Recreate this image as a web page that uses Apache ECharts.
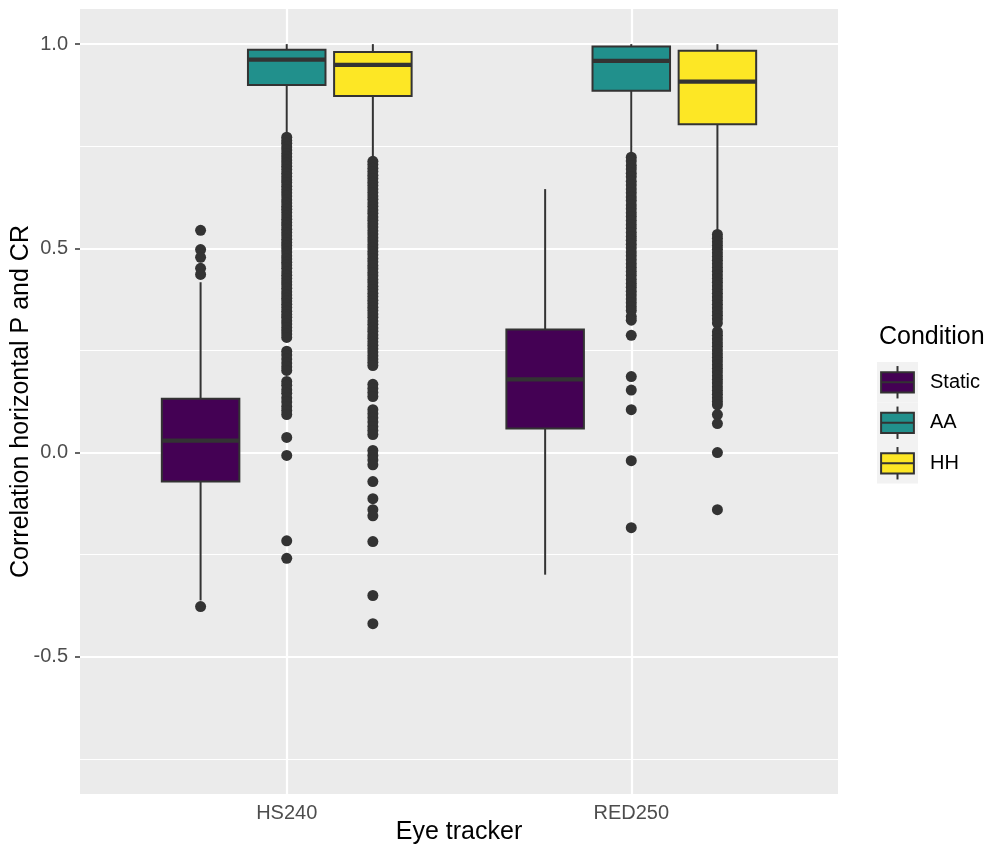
<!DOCTYPE html>
<html>
<head>
<meta charset="utf-8">
<script src="https://cdn.jsdelivr.net/npm/echarts@6/dist/echarts.min.js"></script>
<style>
  html, body { margin: 0; padding: 0; background: #ffffff; }
  #chart { width: 987px; height: 845px; }
</style>
</head>
<body>
<div id="chart"></div>
<script>
// ---- data -------------------------------------------------------------
const trackers = ['HS240', 'RED250'];
const conditions = ['Static', 'AA', 'HH'];
const conditionColors = ['#440154', '#21908C', '#FDE725'];

// five-number summaries per tracker: [lower whisker, Q1, median, Q3, upper whisker]
const staticBox = [[-0.362, -0.071, 0.029, 0.132, 0.417], [-0.299, 0.059, 0.179, 0.301, 0.645]];
const aaBox     = [[0.784, 0.900, 0.962, 0.986, 1.000], [0.735, 0.886, 0.959, 0.994, 1.000]];
const hhBox     = [[0.723, 0.873, 0.949, 0.981, 1.000], [0.542, 0.804, 0.908, 0.984, 1.000]];

// outlying correlations per tracker
const staticOutliers = [
  [0.544, 0.497, 0.478, 0.451, 0.436, -0.377],
  []
];
const aaOutliers = [
  [0.772, 0.764, 0.757, 0.749, 0.741, 0.732, 0.724, 0.716, 0.709, 0.701, 0.693, 0.684,
   0.676, 0.668, 0.661, 0.652, 0.644, 0.636, 0.628, 0.619, 0.611, 0.603, 0.596, 0.588,
   0.579, 0.571, 0.563, 0.556, 0.547, 0.539, 0.531, 0.522, 0.514, 0.507, 0.499, 0.491,
   0.482, 0.474, 0.466, 0.459, 0.451, 0.442, 0.434, 0.426, 0.418, 0.411, 0.402, 0.394,
   0.386, 0.378, 0.371, 0.363, 0.355, 0.346, 0.338, 0.331, 0.323, 0.315, 0.306, 0.298,
   0.290, 0.282,
   0.248, 0.239, 0.229, 0.219, 0.210, 0.201,
   0.174, 0.165, 0.154, 0.145, 0.134, 0.124, 0.113, 0.103, 0.093,
   0.037, -0.007, -0.216, -0.259],
  [0.723, 0.714, 0.703, 0.694, 0.684, 0.675, 0.664, 0.655, 0.645, 0.636, 0.626, 0.617,
   0.606, 0.597, 0.587, 0.578, 0.568, 0.558, 0.549, 0.539, 0.529, 0.520, 0.510, 0.501,
   0.491, 0.482, 0.472, 0.462, 0.453, 0.443, 0.434, 0.424, 0.414, 0.405, 0.395, 0.386,
   0.376, 0.367, 0.357, 0.348,
   0.333, 0.324, 0.287, 0.186, 0.153, 0.105, -0.020, -0.184]
];
const hhOutliers = [
  [0.713, 0.705, 0.696, 0.688, 0.679, 0.671, 0.662, 0.654, 0.645, 0.637, 0.628, 0.620,
   0.611, 0.603, 0.594, 0.586, 0.577, 0.569, 0.560, 0.552, 0.543, 0.535, 0.526, 0.518,
   0.509, 0.501, 0.492, 0.484, 0.475, 0.467, 0.458, 0.450, 0.441, 0.433, 0.424, 0.416,
   0.407, 0.399, 0.390, 0.382, 0.373, 0.365, 0.356, 0.348, 0.339, 0.331, 0.322, 0.314,
   0.305, 0.297, 0.288, 0.280, 0.271, 0.263, 0.254, 0.246, 0.237, 0.229, 0.221, 0.213,
   0.167, 0.157, 0.147, 0.137,
   0.105, 0.095, 0.085, 0.075, 0.064, 0.054, 0.044,
   0.005, -0.007, -0.018, -0.030, -0.071, -0.113, -0.140, -0.155, -0.218, -0.350, -0.419],
  [0.534, 0.525, 0.516, 0.507, 0.498, 0.489, 0.480, 0.471, 0.462, 0.453, 0.444, 0.435,
   0.426, 0.417, 0.408, 0.399, 0.390, 0.381, 0.372, 0.363, 0.354, 0.345, 0.336, 0.327, 0.317,
   0.296, 0.287, 0.278, 0.269, 0.260, 0.251, 0.242, 0.233, 0.224, 0.215, 0.206, 0.197,
   0.188, 0.179, 0.170, 0.161, 0.152, 0.143, 0.134, 0.125, 0.117,
   0.093, 0.071, 0.000, -0.140]
];

const yMajorBreaks = [-0.5, 0.0, 0.5, 1.0];
const yMinorBreaks = [-0.75, -0.25, 0.25, 0.75];
const xBreaks = [1, 2];

// ---- layout helpers ----------------------------------------------------
const boxStats = [staticBox, aaBox, hhBox];
const outlierSets = [staticOutliers, aaOutliers, hhOutliers];
const dodgeStep = 0.25;        // spacing between conditions within a tracker
const boxWidth = 0.225;        // box width in axis units
const ink = '#333333';
const fontFamily = 'Liberation Sans, Arial, Helvetica, sans-serif';

function xPos(trackerIdx, condIdx) {
  return (trackerIdx + 1) + (condIdx - 1) * dodgeStep;
}

function makeBoxRenderer(fill) {
  return function (params, api) {
    const x = api.value(0);
    const lo = api.coord([x, api.value(1)]);
    const q1 = api.coord([x, api.value(2)]);
    const md = api.coord([x, api.value(3)]);
    const q3 = api.coord([x, api.value(4)]);
    const hi = api.coord([x, api.value(5)]);
    const left = api.coord([x - boxWidth / 2, 0])[0];
    const right = api.coord([x + boxWidth / 2, 0])[0];
    const cx = lo[0];
    return {
      type: 'group',
      children: [
        { type: 'line', shape: { x1: cx, y1: lo[1], x2: cx, y2: q1[1] },
          style: { stroke: ink, lineWidth: 2 } },
        { type: 'line', shape: { x1: cx, y1: q3[1], x2: cx, y2: hi[1] },
          style: { stroke: ink, lineWidth: 2 } },
        { type: 'rect', shape: { x: left, y: q3[1], width: right - left, height: q1[1] - q3[1] },
          style: { fill: fill, stroke: ink, lineWidth: 2 } },
        { type: 'line', shape: { x1: left, y1: md[1], x2: right, y2: md[1] },
          style: { stroke: ink, lineWidth: 4.3 } }
      ]
    };
  };
}

const series = [];

// panel grid lines (kept beneath the boxes)
series.push({
  type: 'scatter',
  data: [],
  z: 1,
  silent: true,
  markLine: {
    z: 1,
    silent: true,
    symbol: ['none', 'none'],
    label: { show: false },
    animation: false,
    data: [
      ...yMinorBreaks.map(v => ({ yAxis: v, lineStyle: { color: '#ffffff', width: 1.1, type: 'solid' } })),
      ...yMajorBreaks.map(v => ({ yAxis: v, lineStyle: { color: '#ffffff', width: 2.2, type: 'solid' } })),
      ...xBreaks.map(v => ({ xAxis: v, lineStyle: { color: '#ffffff', width: 2.2, type: 'solid' } }))
    ]
  }
});

conditions.forEach((cond, c) => {
  // outliers
  const pts = [];
  outlierSets[c].forEach((vals, t) => {
    vals.forEach(v => pts.push([xPos(t, c), v]));
  });
  series.push({
    name: cond + ' outliers',
    type: 'scatter',
    z: 3,
    silent: true,
    symbol: 'circle',
    symbolSize: 11,
    itemStyle: { color: ink, opacity: 1 },
    data: pts
  });
  // boxes and whiskers
  series.push({
    name: cond,
    type: 'custom',
    z: 4,
    silent: true,
    renderItem: makeBoxRenderer(conditionColors[c]),
    encode: { x: 0, y: [1, 2, 3, 4, 5] },
    data: boxStats[c].map((s, t) => [xPos(t, c), ...s])
  });
});

// legend drawn as boxplot key glyphs
const legendLeft = 877, legendTop = 362, keySize = 41, keyStep = 40.5;
const legendGraphics = [
  { type: 'text', x: 879, y: 337,
    style: { text: 'Condition', fontSize: 25, fontFamily: fontFamily, fill: '#000000', verticalAlign: 'middle', align: 'left' } }
];
conditions.forEach((cond, i) => {
  const y0 = legendTop + i * keyStep;
  legendGraphics.push(
    { type: 'rect', shape: { x: legendLeft, y: y0, width: keySize, height: keyStep }, style: { fill: '#F2F2F2' } },
    { type: 'line', shape: { x1: legendLeft + keySize / 2, y1: y0 + keyStep * 0.1, x2: legendLeft + keySize / 2, y2: y0 + keyStep * 0.9 },
      style: { stroke: ink, lineWidth: 2 } },
    { type: 'rect', shape: { x: legendLeft + keySize * 0.1, y: y0 + keyStep * 0.25, width: keySize * 0.8, height: keyStep * 0.5 },
      style: { fill: conditionColors[i], stroke: ink, lineWidth: 2 } },
    { type: 'line', shape: { x1: legendLeft + keySize * 0.1, y1: y0 + keyStep / 2, x2: legendLeft + keySize * 0.9, y2: y0 + keyStep / 2 },
      style: { stroke: ink, lineWidth: 2 } },
    { type: 'text', x: legendLeft + keySize + 12, y: y0 + keyStep / 2,
      style: { text: cond, fontSize: 20, fontFamily: fontFamily, fill: '#000000', verticalAlign: 'middle', align: 'left' } }
  );
});

const chart = echarts.init(document.getElementById('chart'), null, { renderer: 'canvas' });
chart.setOption({
  animation: false,
  backgroundColor: '#ffffff',
  textStyle: { fontFamily: fontFamily },
  grid: {
    left: 80, right: 149, top: 9, bottom: 51,
    outerBoundsMode: 'none',
    containLabel: false,
    show: true, backgroundColor: '#EBEBEB', borderWidth: 0
  },
  xAxis: {
    type: 'value',
    min: 0.4, max: 2.6,
    name: 'Eye tracker',
    nameLocation: 'middle',
    nameGap: 26,
    nameMoveOverlap: false,
    nameTextStyle: { fontSize: 25, color: '#000000' },
    axisLine: { show: false },
    splitLine: { show: false },
    axisTick: { show: true, customValues: xBreaks, length: 5, lineStyle: { color: ink, width: 1.5 } },
    axisLabel: {
      customValues: xBreaks,
      formatter: v => trackers[Math.round(v) - 1],
      fontSize: 20, color: '#4D4D4D', margin: 9
    }
  },
  yAxis: {
    type: 'value',
    min: -0.836, max: 1.086,
    name: 'Correlation horizontal P and CR',
    nameLocation: 'middle',
    nameGap: 46,
    nameMoveOverlap: false,
    nameRotate: 90,
    nameTextStyle: { fontSize: 25, color: '#000000' },
    axisLine: { show: false },
    splitLine: { show: false },
    axisTick: { show: true, customValues: yMajorBreaks, length: 5, lineStyle: { color: ink, width: 1.5 } },
    axisLabel: {
      customValues: yMajorBreaks,
      formatter: v => v.toFixed(1),
      fontSize: 20, color: '#4D4D4D', margin: 12
    }
  },
  graphic: legendGraphics,
  series: series
});
</script>
</body>
</html>
